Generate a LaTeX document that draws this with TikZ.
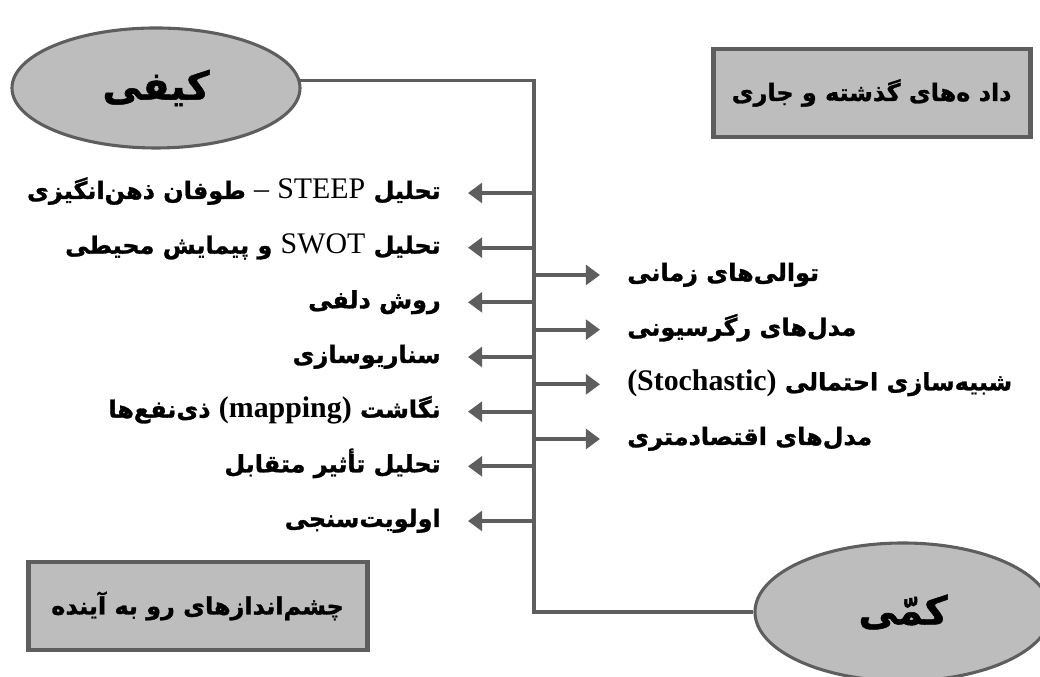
\documentclass[tikz,border=0pt]{standalone}
\usepackage{fontspec}
\usepackage{tikz}
\usetikzlibrary{arrows.meta, positioning, shapes.geometric}
\TeXXeTstate=1
\newfontfamily\arabicfont[Script=Arabic, BoldFeatures={FakeBold=1.2}]{DejaVu Sans}
\newfontfamily\latinfont[Scale=1.25]{Liberation Serif}
\definecolor{boxgray}{HTML}{BDBDBD}
\definecolor{edgegray}{HTML}{5E5E5E}
\newcommand{\fatext}[1]{{\arabicfont\bfseries\beginR #1\endR}}
\newcommand{\entext}[1]{{\latinfont\beginL #1\endL}}

\begin{document}
\begin{tikzpicture}[
    hub/.style={ellipse, draw=edgegray, line width=2.2pt, fill=boxgray,
                inner sep=0pt, font=\fontsize{28}{32}\selectfont},
    box/.style={draw=edgegray, line width=3.5pt, fill=boxgray,
                minimum width=#1, minimum height=2.2cm, font=\fontsize{17}{20}\selectfont},
    item/.style={inner xsep=0.675cm, inner ysep=0pt, text height=0.45cm, text depth=0.15cm,
                 font=\fontsize{17}{20}\selectfont},
    arr/.style={-{Triangle[length=10pt, width=14pt]}, line width=2.7pt, edgegray},
    spine/.style={line width=2.7pt, edgegray},
]
    \useasboundingbox (0,0) rectangle (26,16.925);

    % two poles and the two side boxes
    \node[hub, minimum width=7.2cm, minimum height=3cm] (kayfi) at (3.9, 14.725) {\fatext{کیفی}};
    \node[hub, minimum width=7.4cm, minimum height=3.45cm] (kammi) at (22.575, 1.625) {\fatext{کمّی}};
    \node[box=7.925cm] (past) at (21.79, 14.6) {\fatext{داد ه‌های گذشته و جاری}};
    \node[box=8.475cm] (future) at (4.94, 1.775) {\fatext{چشم‌اندازهای رو به آینده}};

    % spine
    \coordinate (spinex) at (13.35, 0);
    \draw[spine] (kayfi.3) -- (kayfi.3 -| spinex) |- (kammi.west);

    % qualitative methods (left)
    \coordinate (l1) at (13.35, 12.1);
    \coordinate (l2) at (13.35, 10.733);
    \coordinate (l3) at (13.35, 9.367);
    \coordinate (l4) at (13.35, 8.0);
    \coordinate (l5) at (13.35, 6.633);
    \coordinate (l6) at (13.35, 5.267);
    \coordinate (l7) at (13.35, 3.9);
    \node[item, anchor=east] (steep) at (11.7, 12.1)
        {\fatext{تحلیل \entext{\mdseries STEEP} \entext{\mdseries –} طوفان ذهن‌انگیزی}};
    \node[item, anchor=east] (swot) at (11.7, 10.733)
        {\fatext{تحلیل \entext{\mdseries SWOT} و پیمایش محیطی}};
    \node[item, anchor=east] (delphi) at (11.7, 9.367) {\fatext{روش دلفی}};
    \node[item, anchor=east] (scen) at (11.7, 8.0) {\fatext{سناریوسازی}};
    \node[item, anchor=east] (mapping) at (11.7, 6.633)
        {\fatext{نگاشت \entext{(mapping)} ذی‌نفع‌ها}};
    \node[item, anchor=east] (cross) at (11.7, 5.267) {\fatext{تحلیل تأثیر متقابل}};
    \node[item, anchor=east] (prio) at (11.7, 3.9) {\fatext{اولویت‌سنجی}};
    \draw[arr] (l1) -- (steep.east);
    \draw[arr] (l2) -- (swot.east);
    \draw[arr] (l3) -- (delphi.east);
    \draw[arr] (l4) -- (scen.east);
    \draw[arr] (l5) -- (mapping.east);
    \draw[arr] (l6) -- (cross.east);
    \draw[arr] (l7) -- (prio.east);

    % quantitative methods (right)
    \coordinate (r1) at (13.35, 10.05);
    \coordinate (r2) at (13.35, 8.683);
    \coordinate (r3) at (13.35, 7.317);
    \coordinate (r4) at (13.35, 5.95);
    \node[item, anchor=west] (tseries) at (15.0, 10.05) {\fatext{توالی‌های زمانی}};
    \node[item, anchor=west] (regr) at (15.0, 8.683) {\fatext{مدل‌های رگرسیونی}};
    \node[item, anchor=west] (stoch) at (15.0, 7.317)
        {\fatext{شبیه‌سازی احتمالی \entext{(Stochastic)}}};
    \node[item, anchor=west] (econ) at (15.0, 5.95) {\fatext{مدل‌های اقتصادمتری}};
    \draw[arr] (r1) -- (tseries.west);
    \draw[arr] (r2) -- (regr.west);
    \draw[arr] (r3) -- (stoch.west);
    \draw[arr] (r4) -- (econ.west);
\end{tikzpicture}
\end{document}
